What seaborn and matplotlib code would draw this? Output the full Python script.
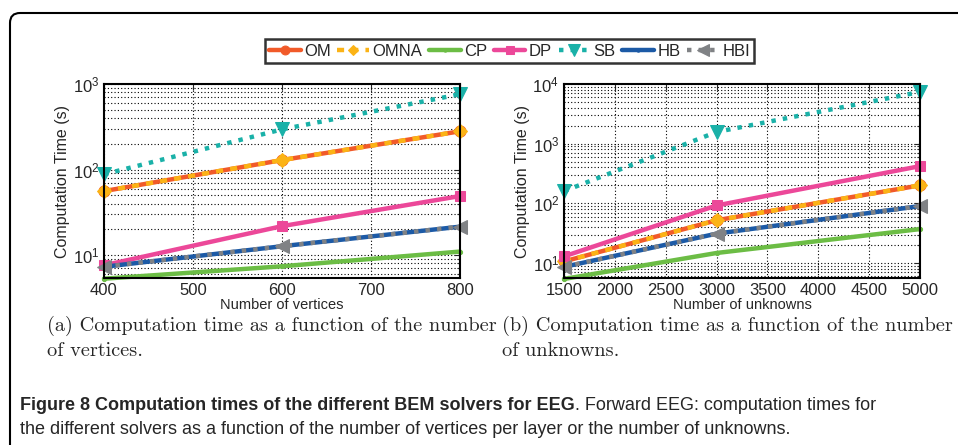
import numpy as np
import pandas as pd
import matplotlib
matplotlib.use("Agg")
import matplotlib.pyplot as plt
import seaborn as sns
from matplotlib.patches import FancyBboxPatch
from matplotlib.ticker import LogLocator, NullFormatter

sns.set_theme(style="white")
plt.rcParams['font.family'] = ['Liberation Sans', 'DejaVu Sans']
plt.rcParams['mathtext.fontset'] = 'custom'
plt.rcParams['mathtext.rm'] = 'Liberation Sans'

# Dados
solvers = ["OM", "OMNA", "CP", "DP", "SB", "HB", "HBI"]

vertices = [400, 600, 800]
time_vert = {
    "OM":   [56, 129, 280],
    "OMNA": [56, 129, 280],
    "CP":   [5.3, 7.4, 11],
    "DP":   [7.6, 21.8, 49],
    "SB":   [88, 295, 760],
    "HB":   [7.3, 12.7, 21.5],
    "HBI":  [7.3, 12.7, 21.5],
}

unknowns = [1500, 3000, 5000]
time_unk = {
    "OM":   [10.6, 52, 200],
    "OMNA": [10.6, 52, 200],
    "CP":   [5.4, 14.7, 37],
    "DP":   [12.9, 92, 420],
    "SB":   [160, 1570, 7360],
    "HB":   [8.6, 31, 90],
    "HBI":  [8.6, 31, 90],
}

# Estilos
style = {
    "OM":   dict(color="#f15a29", marker="o", ms=8, ls="-"),
    "OMNA": dict(color="#fbb316", marker="D", ms=7, ls=(0, (1.6, 1.6))),
    "CP":   dict(color="#6cbd45", marker=".", ms=6, ls="-"),
    "DP":   dict(color="#ec4899", marker="s", ms=7, ls="-"),
    "SB":   dict(color="#1ab1a8", marker="v", ms=10, ls=(0, (1, 1.6))),
    "HB":   dict(color="#1c5aa6", marker=".", ms=6, ls="-"),
    "HBI":  dict(color="#808285", marker="<", ms=10, ls=(0, (1, 1.6))),
}

W, H = 958, 445
fig = plt.figure(figsize=(W / 100, H / 100), dpi=100)

def px_axes(x0, y0, x1, y1):
    return fig.add_axes([x0 / W, 1 - y1 / H, (x1 - x0) / W, (y1 - y0) / H])

ax1 = px_axes(104, 84, 460, 278)
ax2 = px_axes(564, 84, 920, 278)

def draw(ax, x, data, xlabel, xlim, xticks, ylim):
    for s in solvers:
        df = pd.DataFrame({"x": x, "y": data[s]})
        st = style[s]
        sns.lineplot(data=df, x="x", y="y", ax=ax, color=st["color"],
                     marker=st["marker"], markersize=st["ms"],
                     markeredgecolor=st["color"], linewidth=3.2,
                     linestyle=st["ls"], label=s, legend=False, clip_on=False)
    ax.set_yscale("log")
    ax.set_xlim(*xlim)
    ax.set_ylim(*ylim)
    ax.set_xticks(xticks)
    ax.yaxis.set_major_locator(LogLocator(base=10, numticks=10))
    ax.yaxis.set_minor_locator(LogLocator(base=10, subs=np.arange(2, 10), numticks=20))
    ax.yaxis.set_minor_formatter(NullFormatter())
    ax.grid(True, which="major", color="black", linestyle=(0, (1, 2)), linewidth=0.8)
    ax.grid(True, which="minor", axis="y", color="black", linestyle=(0, (1, 2)), linewidth=0.8)
    ax.tick_params(axis="both", which="both", direction="in", labelsize=12,
                   length=4, width=0.8, top=True, right=True)
    ax.tick_params(axis="y", which="minor", length=2)
    ax.set_xlabel(xlabel, fontsize=10.5, labelpad=0)
    ax.set_ylabel("Computation Time (s)", fontsize=11.5, labelpad=2)
    for sp in ax.spines.values():
        sp.set_color("black")
        sp.set_linewidth(1.5)

draw(ax1, vertices, time_vert, "Number of vertices", (400, 800),
     [400, 500, 600, 700, 800], (5.4, 1000))
draw(ax2, unknowns, time_unk, "Number of unknowns", (1500, 5000),
     list(range(1500, 5001, 500)), (5.6, 10000))

handles, labels = ax1.get_legend_handles_labels()
leg = fig.legend(handles, labels, loc="center", ncol=7,
                 bbox_to_anchor=(509.5 / W, 1 - 51 / H), fontsize=12,
                 frameon=True, fancybox=False, edgecolor="black",
                 handlelength=1.9, handletextpad=0.2, columnspacing=0.4,
                 borderpad=0.25, borderaxespad=0, markerscale=0.8)
leg.get_frame().set_linewidth(1.8)

# Legendas das subfiguras
serif = ['cmr10', 'DejaVu Serif']
fig.text(47 / W, 1 - 326 / H, "(a) Computation time as a function of the number",
         fontsize=14.6, family=serif, va="center")
fig.text(47 / W, 1 - 351 / H, "of vertices.", fontsize=14.6, family=serif, va="center")
fig.text(502 / W, 1 - 326 / H, "(b) Computation time as a function of the number",
         fontsize=14.6, family=serif, va="center")
fig.text(502 / W, 1 - 351 / H, "of unknowns.", fontsize=14.6, family=serif, va="center")

# Legenda da figura
narrow = ['Liberation Sans Narrow', 'Liberation Sans', 'DejaVu Sans']
t_bold = fig.text(20 / W, 1 - 405 / H,
                  "Figure 8 Computation times of the different BEM solvers for EEG",
                  fontsize=13, family=narrow, weight="bold", va="center")
fig.canvas.draw()
bb = t_bold.get_window_extent()
fig.text(bb.x1 / W, 1 - 405 / H,
         ". Forward EEG: computation times for",
         fontsize=13, family=narrow, va="center")
fig.text(20 / W, 1 - 430 / H,
         "the different solvers as a function of the number of vertices per layer or the number of unknowns.",
         fontsize=13, family=narrow, va="center")

# Moldura arredondada
box = FancyBboxPatch((10, -20), W + 20, H - 13 + 20,
                     boxstyle="round,pad=0,rounding_size=10",
                     transform=None, facecolor="none", edgecolor="black",
                     linewidth=1.5)
fig.add_artist(box)

fig.savefig("out.png", dpi=100)
